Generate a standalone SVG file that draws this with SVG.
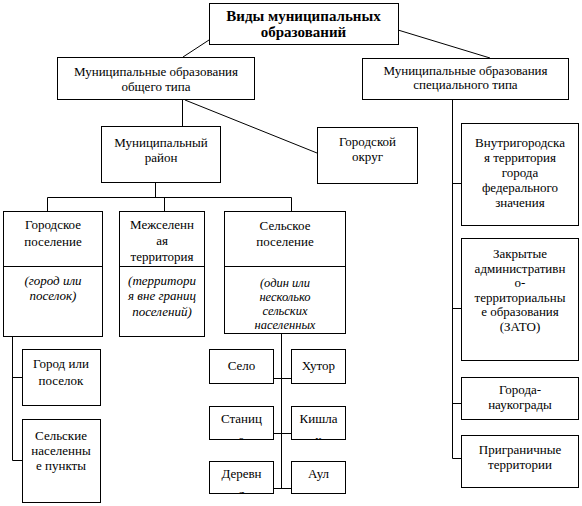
<svg xmlns="http://www.w3.org/2000/svg" width="582" height="506" viewBox="0 0 582 506">
<style>
rect{fill:#fff;stroke:#000;stroke-width:1}
line,polyline{stroke:#000;stroke-width:1;fill:none}
text{font-family:"Liberation Serif","Times New Roman",serif;font-size:13px;fill:#000;text-anchor:middle}
.b{font-weight:bold;font-size:15px}
.i{font-style:italic}
.s{font-size:12.5px}
</style>
<defs>
<clipPath id="cSel"><rect x="225" y="267" width="120" height="66"/></clipPath>
<clipPath id="cSta"><rect x="210" y="407" width="63" height="32"/></clipPath>
<clipPath id="cKis"><rect x="292" y="407" width="53" height="32"/></clipPath>
<clipPath id="cDer"><rect x="210" y="462" width="63" height="31"/></clipPath>
</defs>
<g id="connectors">
<line x1="209" y1="40" x2="183" y2="57"/>
<line x1="398" y1="30" x2="490" y2="58"/>
<line x1="182.5" y1="100" x2="182.5" y2="126"/>
<line x1="185" y1="100" x2="317" y2="153"/>
<line x1="155.5" y1="182" x2="155.5" y2="197.5"/>
<line x1="47.5" y1="197.5" x2="291.5" y2="197.5"/>
<line x1="47.5" y1="197.5" x2="47.5" y2="211"/>
<line x1="164.5" y1="197.5" x2="164.5" y2="211"/>
<line x1="291.5" y1="197.5" x2="291.5" y2="211"/>
<polyline points="12.5,337 12.5,460.5 22,460.5"/>
<line x1="12.5" y1="377.5" x2="22" y2="377.5"/>
<line x1="281.5" y1="333" x2="281.5" y2="488.5"/>
<line x1="273" y1="378.5" x2="291" y2="378.5"/>
<line x1="273" y1="433.5" x2="291" y2="433.5"/>
<line x1="273" y1="488.5" x2="291" y2="488.5"/>
<line x1="452.5" y1="99" x2="452.5" y2="458.5"/>
<line x1="452.5" y1="183.5" x2="461" y2="183.5"/>
<line x1="452.5" y1="308.5" x2="461" y2="308.5"/>
<line x1="452.5" y1="403.5" x2="461" y2="403.5"/>
<line x1="452.5" y1="458.5" x2="461" y2="458.5"/>
</g>
<g id="top">
<rect x="209.5" y="3.5" width="189" height="41"/>
<text class="b" x="303.5" y="21">Виды муниципальных</text>
<text class="b" x="303.5" y="37">образований</text>
</g>
<g id="general">
<rect x="57.5" y="57.5" width="197" height="42"/>
<text x="156" y="76">Муниципальные образования</text>
<text x="156" y="91">общего типа</text>
</g>
<g id="special">
<rect x="362.5" y="58.5" width="206" height="41"/>
<text x="465.5" y="75">Муниципальные образования</text>
<text x="465.5" y="89">специального типа</text>
</g>
<g id="rayon">
<rect x="101.5" y="126.5" width="119" height="56"/>
<text x="161" y="147">Муниципальный</text>
<text x="161" y="162">район</text>
</g>
<g id="okrug">
<rect x="317.5" y="127.5" width="100" height="56"/>
<text x="367.5" y="146">Городской</text>
<text x="367.5" y="161">округ</text>
</g>
<g id="gorodskoe">
<rect x="3.5" y="211.5" width="99" height="125"/>
<line x1="3.5" y1="266.5" x2="102.5" y2="266.5"/>
<text x="53" y="229">Городское</text>
<text x="53" y="246">поселение</text>
<text class="i" x="53" y="285">(город или</text>
<text class="i" x="53" y="300">поселок)</text>
</g>
<g id="mezhselennaya">
<rect x="119.5" y="211.5" width="85" height="125"/>
<line x1="119.5" y1="266.5" x2="204.5" y2="266.5"/>
<text x="162" y="229">Межселенн</text>
<text x="162" y="245">ая</text>
<text x="162" y="261">территория</text>
<text class="i" x="162" y="285">(территори</text>
<text class="i" x="162" y="300">я вне границ</text>
<text class="i" x="162" y="316">поселений)</text>
</g>
<g id="selskoe">
<rect x="224.5" y="211.5" width="121" height="122"/>
<line x1="224.5" y1="266.5" x2="345.5" y2="266.5"/>
<text x="285" y="230">Сельское</text>
<text x="285" y="246">поселение</text>
<g clip-path="url(#cSel)">
<text class="i s" x="285" y="287">(один или</text>
<text class="i s" x="285" y="301">несколько</text>
<text class="i s" x="285" y="315">сельских</text>
<text class="i s" x="285" y="329">населенных</text>
</g>
</g>
<g id="gorod-poselok">
<rect x="22.5" y="349.5" width="78" height="56"/>
<text x="61" y="368">Город или</text>
<text x="61" y="385">поселок</text>
</g>
<g id="selskie-punkty">
<rect x="22.5" y="419.5" width="78" height="83"/>
<text x="61" y="440">Сельские</text>
<text x="61" y="455">населенны</text>
<text x="61" y="470">е пункты</text>
</g>
<g id="selo">
<rect x="209.5" y="349.5" width="64" height="34"/>
<text x="241.5" y="370">Село</text>
</g>
<g id="khutor">
<rect x="291.5" y="349.5" width="54" height="34"/>
<text x="318.5" y="370">Хутор</text>
</g>
<g id="stanitsa">
<rect x="209.5" y="406.5" width="64" height="33"/>
<g clip-path="url(#cSta)">
<text x="241.5" y="423">Станиц</text>
<text x="241.5" y="444">а</text>
</g>
</g>
<g id="kishlak">
<rect x="291.5" y="406.5" width="54" height="33"/>
<g clip-path="url(#cKis)">
<text x="318.5" y="423">Кишла</text>
<text x="318.5" y="444">к</text>
</g>
</g>
<g id="derevnya">
<rect x="209.5" y="461.5" width="64" height="32"/>
<g clip-path="url(#cDer)">
<text x="241.5" y="478">Деревн</text>
<text x="241.5" y="498">я</text>
</g>
</g>
<g id="aul">
<rect x="291.5" y="461.5" width="54" height="32"/>
<text x="318.5" y="478">Аул</text>
</g>
<g id="vnutrigorodskaya">
<rect x="461.5" y="123.5" width="117" height="102"/>
<text x="520" y="147">Внутригородска</text>
<text x="520" y="162">я территория</text>
<text x="520" y="177">города</text>
<text x="520" y="192">федерального</text>
<text x="520" y="207">значения</text>
</g>
<g id="zato">
<rect x="461.5" y="238.5" width="117" height="122"/>
<text x="520" y="258">Закрытые</text>
<text x="520" y="272.5">административн</text>
<text x="520" y="287">о-</text>
<text x="520" y="301.5">территориальны</text>
<text x="520" y="316">е образования</text>
<text x="520" y="330.5">(ЗАТО)</text>
</g>
<g id="naukogrady">
<rect x="461.5" y="377.5" width="117" height="42"/>
<text x="520" y="394">Города-</text>
<text x="520" y="409">наукограды</text>
</g>
<g id="prigranichnye">
<rect x="461.5" y="435.5" width="117" height="52"/>
<text x="520" y="454">Приграничные</text>
<text x="520" y="469">территории</text>
</g>
</svg>
